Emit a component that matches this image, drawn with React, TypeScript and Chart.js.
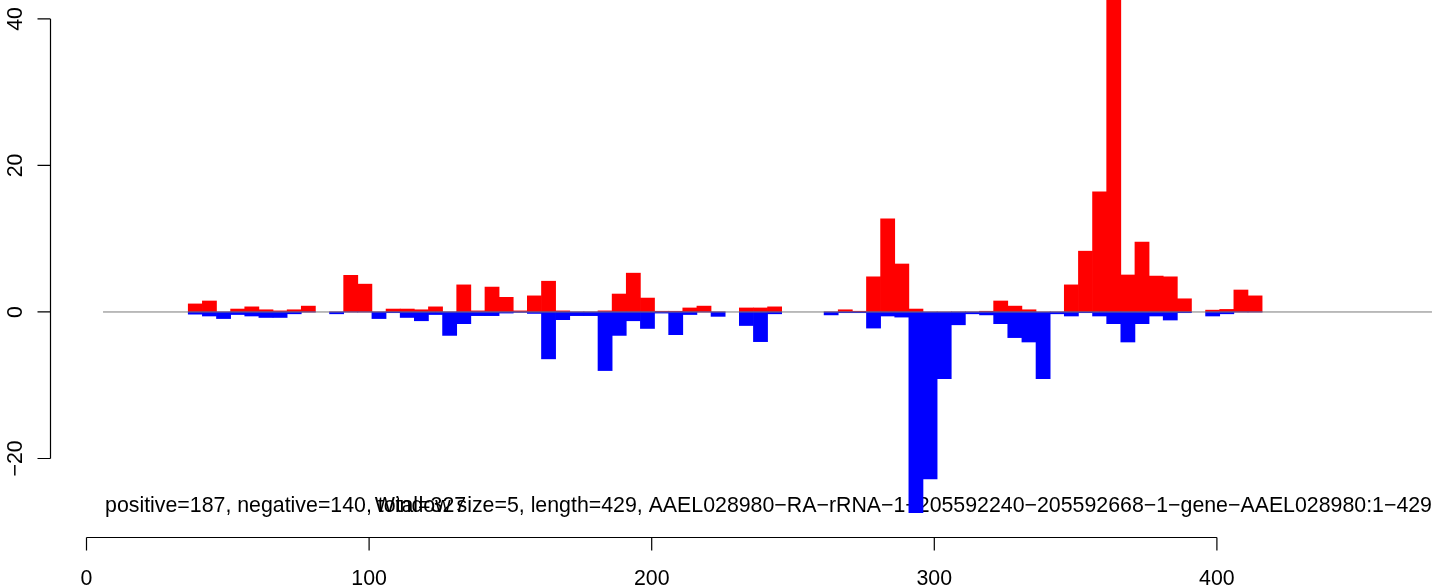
import React, { useEffect, useRef } from "react";
import { Chart, registerables } from "chart.js";

Chart.register(...registerables);

// ---- data (window start positions, window size 5) ----
const windowSize = 5;
const windowStarts = [
  36, 41, 46, 51, 56, 61, 66, 71, 76, 86, 91, 96, 101, 106, 111, 116, 121, 126, 131, 136,
  141, 146, 151, 156, 161, 166, 171, 176, 181, 186, 191, 196, 201, 206, 211, 216, 221, 231, 236, 241,
  261, 266, 271, 276, 281, 286, 291, 296, 301, 306, 311, 316, 321, 326, 331, 336, 341, 346, 351, 356,
  361, 366, 371, 376, 381, 386, 396, 401, 406, 411,
];
const positiveValues = [
  1.1, 1.5, 0, 0.4, 0.7, 0.3, 0.15, 0.3, 0.8, 0, 5.0, 3.8, 0, 0.4, 0.4, 0.3, 0.7, 0, 3.7, 0.15,
  3.4, 2.0, 0.15, 2.2, 4.2, 0.15, 0, 0, 0.15, 2.45, 5.3, 1.9, 0.1, 0.1, 0.55, 0.8, 0, 0.55, 0.55, 0.7,
  0, 0.3, 0.1, 4.8, 12.7, 6.55, 0.4, 0, 0, 0, 0, 0.1, 1.5, 0.8, 0.3, 0, 0, 3.7, 8.3, 16.4,
  46, 5.05, 9.55, 4.9, 4.8, 1.8, 0.25, 0.35, 3.0, 2.2,
];
const negativeValues = [
  -0.3, -0.55, -0.9, -0.35, -0.55, -0.75, -0.75, -0.25, 0, -0.25, 0, 0, -0.9, -0.1, -0.75, -1.2, -0.35, -3.2, -1.6, -0.5,
  -0.5, -0.15, -0.05, -0.2, -6.4, -1.05, -0.5, -0.5, -8.0, -3.2, -1.2, -2.25, -0.15, -3.1, -0.35, 0, -0.6, -1.85, -4.05, -0.25,
  -0.4, -0.1, -0.1, -2.2, -0.55, -0.7, -27.4, -22.8, -9.1, -1.75, -0.25, -0.4, -1.6, -3.5, -4.1, -9.1, -0.25, -0.55, -0.1, -0.55,
  -1.6, -4.1, -1.6, -0.55, -1.1, -0.1, -0.55, -0.25, 0, 0,
];
const xTickValues = [0, 100, 200, 300, 400];
const yTickValues = [-20, 0, 20, 40];
const zeroLineRange = [5.85, 476.1];
const infoLeft = "positive=187, negative=140, total=327";
const infoRight =
  "Window size=5, length=429, AAEL028980\u2212RA\u2212rRNA\u22121\u2212205592240\u2212205592668\u22121\u2212gene\u2212AAEL028980:1\u2212429";
const infoTextY = -27.3;

const FONT = '21.33px "Liberation Sans", Arial, Helvetica, sans-serif';

const fmt = (v: number) => (v < 0 ? "\u2212" + String(-v) : String(v));

const rAxesPlugin = {
  id: "rAxes",
  beforeDatasetsDraw(chart: any) {
    const { ctx, scales } = chart;
    const x = scales.x;
    const y = scales.y;
    ctx.save();
    ctx.font = FONT;
    ctx.fillStyle = "#000";
    ctx.textBaseline = "alphabetic";
    const ty = y.getPixelForValue(infoTextY);
    ctx.textAlign = "left";
    ctx.fillText(infoLeft, x.getPixelForValue(zeroLineRange[0]) + 2, ty);
    ctx.textAlign = "right";
    ctx.fillText(infoRight, x.getPixelForValue(zeroLineRange[1]), ty);
    ctx.restore();
  },
  afterDraw(chart: any) {
    const { ctx, scales, chartArea } = chart;
    const x = scales.x;
    const y = scales.y;
    ctx.save();
    ctx.strokeStyle = "#000";
    ctx.fillStyle = "#000";
    ctx.lineWidth = 1.2;
    ctx.font = FONT;
    // x axis (R style, below plot region)
    const ax = Math.round(chartArea.bottom) + 0.5;
    const x0 = x.getPixelForValue(xTickValues[0]);
    const x1 = x.getPixelForValue(xTickValues[xTickValues.length - 1]);
    ctx.beginPath();
    ctx.moveTo(x0, ax);
    ctx.lineTo(x1, ax);
    for (const v of xTickValues) {
      const px = x.getPixelForValue(v);
      ctx.moveTo(px, ax);
      ctx.lineTo(px, ax + 13);
    }
    ctx.stroke();
    ctx.textAlign = "center";
    ctx.textBaseline = "alphabetic";
    for (const v of xTickValues) {
      ctx.fillText(fmt(v), x.getPixelForValue(v), ax + 47);
    }
    // y axis
    const ay = Math.round(chartArea.left) + 0.5;
    const y0 = y.getPixelForValue(yTickValues[0]);
    const y1 = y.getPixelForValue(yTickValues[yTickValues.length - 1]);
    ctx.beginPath();
    ctx.moveTo(ay, y0);
    ctx.lineTo(ay, y1);
    for (const v of yTickValues) {
      const py = y.getPixelForValue(v);
      ctx.moveTo(ay, py);
      ctx.lineTo(ay - 13, py);
    }
    ctx.stroke();
    for (const v of yTickValues) {
      const py = y.getPixelForValue(v);
      ctx.save();
      ctx.translate(ay - 29, py);
      ctx.rotate(-Math.PI / 2);
      ctx.textAlign = "center";
      ctx.fillText(fmt(v), 0, 0);
      ctx.restore();
    }
    ctx.restore();
  },
};

export default function App() {
  const canvasRef = useRef<HTMLCanvasElement | null>(null);

  useEffect(() => {
    const canvas = canvasRef.current;
    if (!canvas) return;
    const centers = windowStarts.map((s) => s + windowSize / 2);
    const chart = new Chart(canvas, {
      type: "bar",
      data: {
        datasets: [
          {
            type: "line",
            label: "zero",
            data: zeroLineRange.map((v) => ({ x: v, y: 0 })),
            borderColor: "#7a7a7a",
            borderWidth: 1,
            pointRadius: 0,
            order: 0,
          } as any,
          {
            label: "negative",
            data: centers.map((c, i) => ({ x: c, y: negativeValues[i] })),
            backgroundColor: "#0000ff",
            borderWidth: 0,
            grouped: false,
            barPercentage: 1,
            categoryPercentage: 1,
            order: 1,
          } as any,
          {
            label: "positive",
            data: centers.map((c, i) => ({ x: c, y: positiveValues[i] })),
            backgroundColor: "#ff0000",
            borderWidth: 0,
            grouped: false,
            barPercentage: 1,
            categoryPercentage: 1,
            order: 2,
          } as any,
        ],
      },
      options: {
        animation: false,
        responsive: false,
        maintainAspectRatio: false,
        layout: { padding: { left: 50, right: 0, top: 0, bottom: 48 } },
        plugins: { legend: { display: false }, tooltip: { enabled: false } },
        scales: {
          x: { type: "linear", min: -12.916, max: 480.36, offset: false, display: false },
          y: { type: "linear", min: -30.72, max: 42.59, display: false },
        },
      },
      plugins: [rAxesPlugin],
    } as any);
    return () => chart.destroy();
  }, []);

  return (
    <div style={{ position: "fixed", left: 0, top: 0, width: 1444, height: 585, background: "#fff" }}>
      <canvas ref={canvasRef} width={1444} height={585} style={{ display: "block" }} />
    </div>
  );
}
